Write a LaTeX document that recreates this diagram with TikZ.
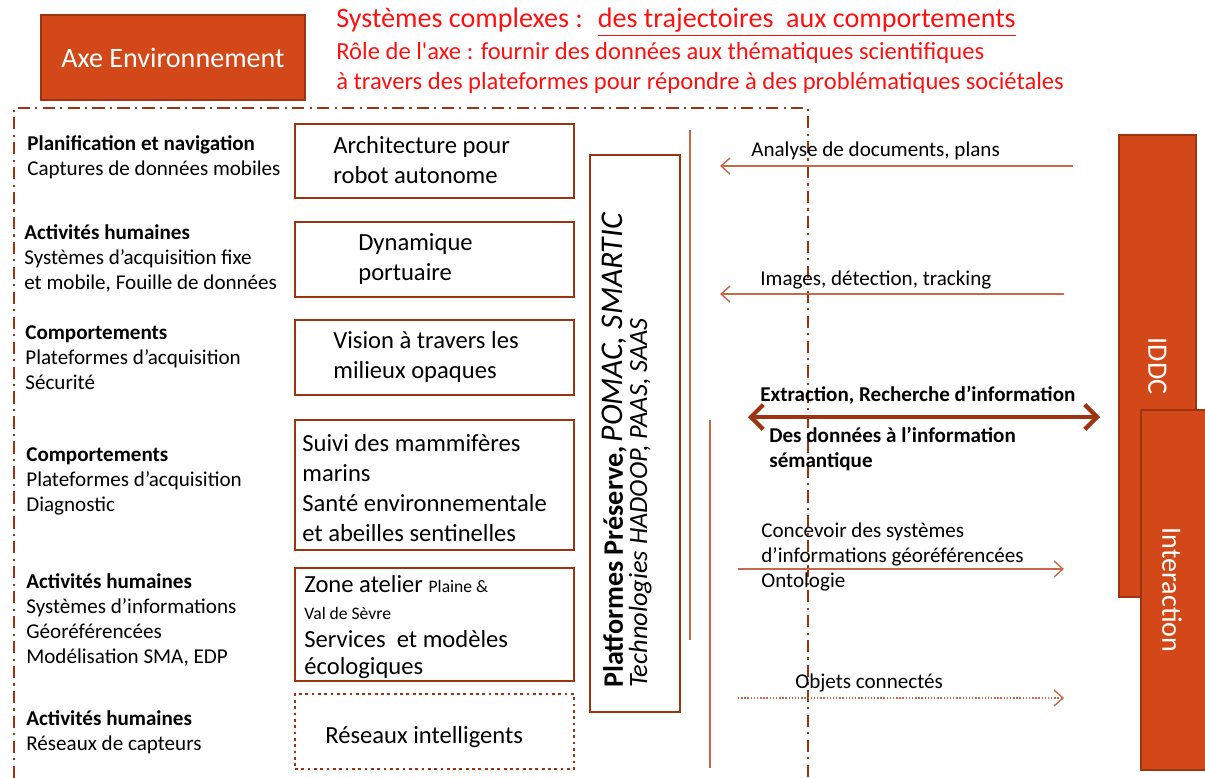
\documentclass[tikz,border=0pt]{standalone}
\usepackage{fontspec}
\setmainfont{Carlito}
\usetikzlibrary{arrows.meta,positioning}

\definecolor{axeorange}{RGB}{210,72,24}
\definecolor{axebrown}{RGB}{156,52,17}
\definecolor{linkbrown}{RGB}{198,104,74}
\definecolor{titlered}{RGB}{255,16,16}

\begin{document}
\begin{tikzpicture}[x=0.02cm,y=-0.02cm]
			\tikzstyle{Theme}	= [anchor=west, inner sep=0pt, align=left, font=\fontsize{12}{14.2}\selectfont]
			\tikzstyle{Label}	= [anchor=west, inner sep=0pt, align=left, font=\fontsize{14}{17}\selectfont]
			\tikzstyle{Box}		= [draw=axebrown, line width=1.6pt, minimum width=5.58cm, inner sep=0pt]
			\tikzstyle{Dots}	= [draw=axebrown, line width=1.6pt, dotted, minimum width=5.58cm, inner sep=0pt]
			\tikzstyle{Block}	= [draw=axebrown, fill=axeorange, line width=1.6pt, text=white, inner sep=0pt, font=\fontsize{16}{19}\selectfont]
			\tikzstyle{Frame}	= [axebrown, line width=1.2pt, dash pattern=on 7pt off 3pt on 1.2pt off 3pt]
			\tikzstyle{Rail}	= [linkbrown, line width=0.8pt]
			\tikzstyle{Link}	= [linkbrown, line width=0.8pt, -{Straight Barb[length=5pt,width=9pt]}]
			\tikzstyle{Flow}	= [axebrown, line width=2.4pt, {Straight Barb[length=7pt,width=14pt]}-{Straight Barb[length=7pt,width=14pt]}]
			\tikzstyle{Note}	= [anchor=west, inner sep=0pt, align=left, font=\fontsize{12}{14.2}\selectfont]

			\useasboundingbox (0,0) rectangle (1205,778);

			% header
			\node (axe) at (173,57.5) [Block, minimum width=5.28cm, minimum height=1.7cm] {Axe Environnement};
			\node (title) at (336,22) [anchor=west, inner sep=0pt, text=titlered, font=\fontsize{16}{19}\selectfont]
				{Systèmes complexes :~ \underline{des trajectoires~ aux comportements}};
			\node (role) at (336,68) [anchor=west, inner sep=0pt, align=left, text=titlered, font=\fontsize{14}{17}\selectfont]
				{Rôle de l\textquotesingle axe : fournir des données aux thématiques scientifiques\\à travers des plateformes pour répondre à des problématiques sociétales};

			% dash-dot frame of the axe
			\draw [Frame] (14,778) -- (14,108) -- (808,108) -- (808,778);

			% themes
			\node (t1) at (27,157.5) [Theme] {\textbf{Planification et navigation}\\Captures de données mobiles};
			\node (t2) at (24,258) [Theme] {\textbf{Activités humaines}\\Systèmes d’acquisition fixe\\et mobile, Fouille de données};
			\node (t3) at (25,358) [Theme] {\textbf{Comportements}\\Plateformes d’acquisition\\Sécurité};
			\node (t4) at (26,481.5) [Theme] {\textbf{Comportements}\\Plateformes d’acquisition\\Diagnostic};
			\node (t5) at (26,620) [Theme] {\textbf{Activités humaines}\\Systèmes d’informations\\Géoréférencées\\Modélisation SMA, EDP};
			\node (t6) at (26,732.5) [Theme] {\textbf{Activités humaines}\\Réseaux de capteurs};

			% projects
			\node (b1) at (434.5,161) [Box, minimum height=1.48cm] {};
			\node (b2) at (434.5,259.5) [Box, minimum height=1.5cm] {};
			\node (b3) at (434.5,357.5) [Box, minimum height=1.5cm] {};
			\node (b4) at (434.5,485) [Box, minimum height=2.6cm] {};
			\node (b5) at (434.5,624.5) [Box, minimum height=2.26cm] {};
			\node (b6) at (434.5,731.5) [Dots, minimum height=1.5cm] {};

			\node (l1) at (333,160) [Label] {Architecture pour\\robot autonome};
			\node (l2) at (358,259) [Label] {Dynamique\\portuaire};
			\node (l3) at (333,357) [Label] {Vision à travers les\\milieux opaques};
			\node (l4) at (302,488) [Label] {Suivi des mammifères\\marins\\Santé environnementale\\et abeilles sentinelles};
			\node (l5) at (304,627) [Label, font=\fontsize{14}{15.5}\selectfont] {Zone atelier {\fontsize{10}{15.5}\selectfont Plaine \&}\\{\fontsize{10}{15.5}\selectfont Val de Sèvre}\\Services~ et modèles\\écologiques};
			\node (l6) at (325,737) [Label] {Réseaux intelligents};

			% platforms
			\node (plat) at (635,433.5) [Box, minimum width=1.8cm, minimum height=11.14cm] {};
			\node (platl) at (627,688) [rotate=90, anchor=west, inner sep=0pt, align=left]
				{{\fontsize{16}{18}\selectfont\bfseries Platformes Préserve,} {\fontsize{18}{18}\selectfont\itshape POMAC, SMARTIC}\\
				 {\fontsize{15}{18}\selectfont\itshape Technologies HADOOP, PAAS, SAAS}};

			\coordinate (r1t) at (690,130);
			\coordinate (r1b) at (690,640);
			\coordinate (r2t) at (710,420);
			\coordinate (r2b) at (710,768);
			\draw [-] (r1t) to (r1b) [Rail];
			\draw [-] (r2t) to (r2b) [Rail];

			% partners
			\node (iddc) at (1157.5,366) [Block, minimum width=1.54cm, minimum height=9.24cm] {};
			\node at (iddc) [rotate=-90, text=white, font=\fontsize{16}{19}\selectfont] {IDDC};
			\node (inter) at (1178,590) [Block, minimum width=1.48cm, minimum height=7.2cm] {};
			\node at (1172,590) [rotate=-90, text=white, font=\fontsize{16}{19}\selectfont] {Interaction};

			% exchanges
			\coordinate (a1s) at (1073,166);
			\coordinate (a1e) at (720,166);
			\coordinate (a2s) at (1064,294);
			\coordinate (a2e) at (720,294);
			\coordinate (a3s) at (748,417);
			\coordinate (a3e) at (1100,417);
			\coordinate (a4s) at (738,569);
			\coordinate (a4e) at (1064,569);
			\coordinate (a5s) at (738,698);
			\coordinate (a5e) at (1064,698);

			\draw (a1s) to (a1e) [Link];
			\draw (a2s) to (a2e) [Link];
			\draw (a3s) to (a3e) [Flow];
			\draw (a4s) to (a4e) [Link];
			\draw (a5s) to (a5e) [Link, densely dotted];

			\node (n1) at (751,151) [Note] {Analyse de documents, plans};
			\node (n2) at (760,280) [Note] {Images, détection, tracking};
			\node (n3) at (760,395) [Note, font=\fontsize{12}{14.2}\selectfont\bfseries] {Extraction, Recherche d’information};
			\node (n4) at (769,449) [Note, font=\fontsize{12}{14.2}\selectfont\bfseries] {Des données à l’information\\sémantique};
			\node (n5) at (761,557) [Note] {Concevoir des systèmes\\d’informations géoréférencées\\Ontologie};
			\node (n6) at (795,683) [Note] {Objets connectés};
		\end{tikzpicture}
\end{document}
